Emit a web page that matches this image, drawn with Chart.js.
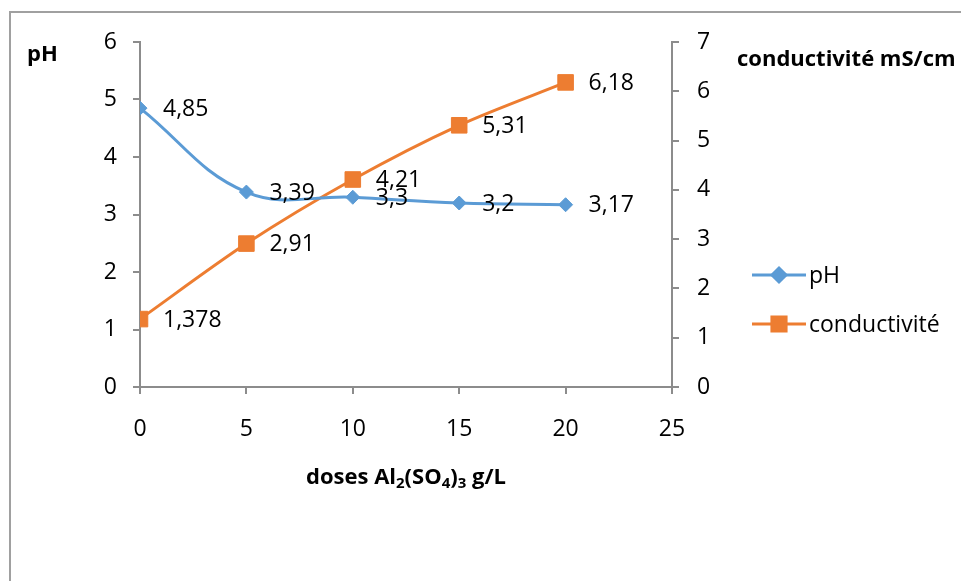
<!DOCTYPE html>
<html>
<head>
<meta charset="utf-8">
<script src="https://cdn.jsdelivr.net/npm/chart.js@4/dist/chart.umd.min.js"></script>
<style>
  html, body { margin: 0; padding: 0; background: #fff; }
  #wrap { width: 961px; height: 581px; }
</style>
</head>
<body>
<div id="wrap"><canvas id="c" width="961" height="581"></canvas></div>
<script>
// Doses of aluminium sulfate (g/L)
const doses = [0, 5, 10, 15, 20];
// pH after treatment
const phValues = [4.85, 3.39, 3.3, 3.2, 3.17];
// Conductivity (mS/cm)
const conductivityValues = [1.378, 2.91, 4.21, 5.31, 6.18];

const FONT = '"Open Sans", "Noto Sans", "Liberation Sans", sans-serif';
const FS = 23;
const BLUE = '#5B9BD5';
const ORANGE = '#ED7D31';
const AXIS = '#8c8c8c';

const fmt = v => String(v).replace('.', ',');

// Frame, axis titles, value labels and legend
const decorations = {
  id: 'decorations',
  afterDraw(chart) {
    const ctx = chart.ctx;
    const area = chart.chartArea;
    ctx.save();

    // outer frame (left and top edges)
    ctx.strokeStyle = '#a0a0a0';
    ctx.lineWidth = 2;
    ctx.beginPath();
    ctx.moveTo(10, 581);
    ctx.lineTo(10, 12);
    ctx.lineTo(961, 12);
    ctx.stroke();

    // axis titles
    ctx.fillStyle = '#000';
    ctx.font = 'bold 22px ' + FONT;
    ctx.textBaseline = 'middle';
    ctx.textAlign = 'left';
    ctx.fillText('pH', 27, 55);
    ctx.fillText('conductivité mS/cm', 737, 60);

    // x title with subscripts
    const parts = [
      ['doses Al', false], ['2', true], ['(SO', false], ['4', true],
      [')', false], ['3', true], [' g/L', false]
    ];
    const big = 'bold 22px ' + FONT, small = 'bold 15px ' + FONT;
    let total = 0;
    parts.forEach(([t, sub]) => { ctx.font = sub ? small : big; total += ctx.measureText(t).width; });
    let x = (area.left + area.right) / 2 - total / 2;
    const ty = 478;
    parts.forEach(([t, sub]) => {
      ctx.font = sub ? small : big;
      ctx.fillText(t, x, sub ? ty + 6 : ty);
      x += ctx.measureText(t).width;
    });

    // value labels next to each point
    ctx.font = FS + 'px ' + FONT;
    chart.data.datasets.forEach((ds, i) => {
      const meta = chart.getDatasetMeta(i);
      meta.data.forEach((pt, j) => {
        ctx.fillText(fmt(ds.data[j].y), pt.x + 23, pt.y + 1);
      });
    });

    // legend
    const rows = [
      { ds: chart.data.datasets[0], y: 275 },
      { ds: chart.data.datasets[1], y: 324 }
    ];
    rows.forEach(r => {
      ctx.strokeStyle = r.ds.borderColor;
      ctx.lineWidth = 3;
      ctx.beginPath();
      ctx.moveTo(752, r.y);
      ctx.lineTo(806, r.y);
      ctx.stroke();
      Chart.helpers.drawPoint(ctx, {
        pointStyle: r.ds.pointStyle,
        radius: r.ds.pointStyle === 'rect' ? 10 : r.ds.pointRadius,
        rotation: 0,
        borderWidth: 1
      }, 779, r.y);
      ctx.fillStyle = r.ds.backgroundColor;
      ctx.strokeStyle = r.ds.borderColor;
      ctx.fill();
      ctx.fillStyle = '#000';
      ctx.font = FS + 'px ' + FONT;
      ctx.fillText(r.ds.label, 809, r.y + 1);
    });

    ctx.restore();
  }
};

new Chart(document.getElementById('c'), {
  type: 'line',
  data: {
    datasets: [
      {
        label: 'pH',
        data: doses.map((d, i) => ({ x: d, y: phValues[i] })),
        yAxisID: 'yPh',
        borderColor: BLUE,
        backgroundColor: BLUE,
        borderWidth: 3,
        tension: 0.4,
        pointStyle: 'rectRot',
        pointRadius: 7,
        pointBorderWidth: 1,
        pointBackgroundColor: BLUE,
        pointBorderColor: BLUE
      },
      {
        label: 'conductivité',
        data: doses.map((d, i) => ({ x: d, y: conductivityValues[i] })),
        yAxisID: 'yCond',
        borderColor: ORANGE,
        backgroundColor: ORANGE,
        borderWidth: 3,
        tension: 0.3,
        pointStyle: 'rect',
        pointRadius: 11,
        pointBorderWidth: 1,
        pointBackgroundColor: ORANGE,
        pointBorderColor: ORANGE
      }
    ]
  },
  options: {
    responsive: false,
    animation: false,
    layout: { padding: { top: 42, right: 0, bottom: 0, left: 0 } },
    plugins: {
      legend: { display: false },
      tooltip: { enabled: false }
    },
    scales: {
      x: {
        type: 'linear',
        position: 'bottom',
        min: 0,
        max: 25,
        ticks: { stepSize: 5, color: '#000', font: { family: FONT, size: FS }, padding: 22 },
        grid: { drawOnChartArea: false, tickLength: 7, color: AXIS, lineWidth: 2 },
        border: { color: AXIS, width: 2 },
        afterFit(s) { s.height = 194; }
      },
      yPh: {
        type: 'linear',
        position: 'left',
        min: 0,
        max: 6,
        ticks: { stepSize: 1, color: '#000', font: { family: FONT, size: FS }, padding: 16 },
        grid: { drawOnChartArea: false, tickLength: 7, color: AXIS, lineWidth: 2 },
        border: { color: AXIS, width: 2 },
        afterFit(s) { s.width = 140; }
      },
      yCond: {
        type: 'linear',
        position: 'right',
        min: 0,
        max: 7,
        ticks: { stepSize: 1, color: '#000', font: { family: FONT, size: FS }, padding: 18 },
        grid: { drawOnChartArea: false, tickLength: 7, color: AXIS, lineWidth: 2 },
        border: { color: AXIS, width: 2 },
        afterFit(s) { s.width = 289; }
      }
    }
  },
  plugins: [decorations]
});
</script>
</body>
</html>
